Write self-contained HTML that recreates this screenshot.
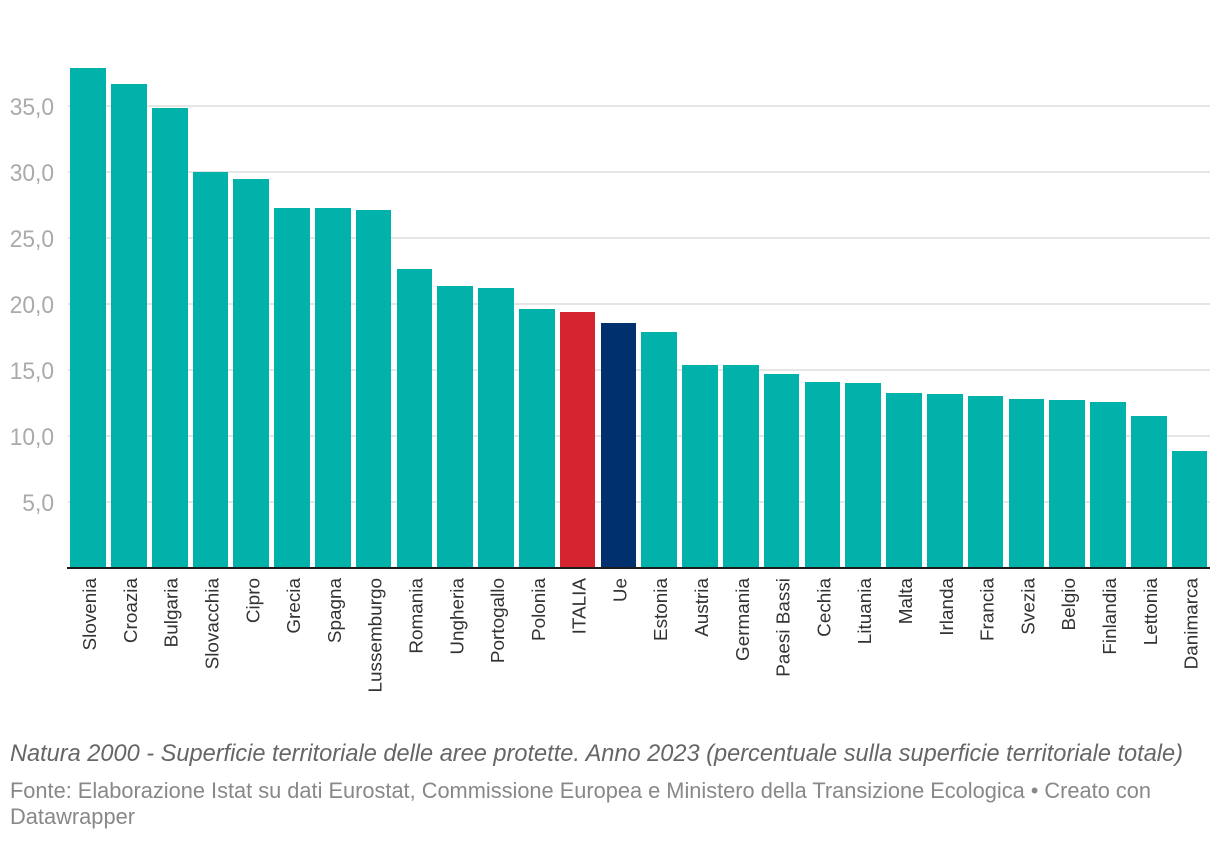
<!DOCTYPE html>
<html lang="it">
<head>
<meta charset="utf-8">
<title>Natura 2000</title>
<style>
html,body{margin:0;padding:0;background:#fff;width:1220px;height:842px;overflow:hidden}
svg{display:block;font-family:"Liberation Sans",sans-serif}
</style>
</head>
<body>
<svg id="chart" xmlns="http://www.w3.org/2000/svg" width="1220" height="842" viewBox="0 0 1220 842">
  <g id="grid"></g>
  <g id="yticks"></g>
  <g id="bars"></g>
  <rect x="67" y="567" width="1143" height="2" fill="#1d1d1d"></rect>
  <g id="xticks"></g>
  <text x="10" y="761" font-size="24" font-style="italic" fill="#666666" textLength="1173" lengthAdjust="spacingAndGlyphs">Natura 2000 - Superficie territoriale delle aree protette. Anno 2023 (percentuale sulla superficie territoriale totale)</text>
  <text x="10" y="798" font-size="22" fill="#888888" textLength="1141" lengthAdjust="spacingAndGlyphs">Fonte: Elaborazione Istat su dati Eurostat, Commissione Europea e Ministero della Transizione Ecologica • Creato con</text>
  <text x="10" y="824" font-size="22" fill="#888888" textLength="125" lengthAdjust="spacingAndGlyphs">Datawrapper</text>
</svg>
<script>
const categories = ["Slovenia","Croazia","Bulgaria","Slovacchia","Cipro","Grecia","Spagna","Lussemburgo","Romania","Ungheria","Portogallo","Polonia","ITALIA","Ue","Estonia","Austria","Germania","Paesi Bassi","Cechia","Lituania","Malta","Irlanda","Francia","Svezia","Belgio","Finlandia","Lettonia","Danimarca"];
const values = [37.9,36.7,34.85,30.0,29.5,27.3,27.3,27.1,22.65,21.4,21.2,19.6,19.4,18.55,17.9,15.4,15.4,14.7,14.1,14.0,13.25,13.2,13.0,12.8,12.7,12.6,11.5,8.9];
const tickValues = [5,10,15,20,25,30,35];
const tickLabels = ["5,0","10,0","15,0","20,0","25,0","30,0","35,0"];
const highlightCategories = ["ITALIA","Ue"];
const highlightColors = ["#d42530","#00306e"];

const NS = "http://www.w3.org/2000/svg";
const baseY = 568, unit = 13.2;
const startX = 70.3, step = 40.795, bandW = 35.63;
function yScale(v){ return baseY - v * unit; }
function xLeft(i){ return startX + i * step; }
function make(tag, attrs){
  const el = document.createElementNS(NS, tag);
  for (const k in attrs) el.setAttribute(k, attrs[k]);
  return el;
}

const grid = document.getElementById("grid");
const yticks = document.getElementById("yticks");
tickValues.forEach(function(v, i){
  const y = Math.round(yScale(v));
  const line = make("rect", {x: 68, y: y - 1, width: 1142, height: 2, fill: "#e6e6e6"});
  
  
  grid.appendChild(line);
  const t = make("text", {x: 54, y: y + 9, "text-anchor": "end", "font-size": 24.5, fill: "#aaaaaa"});
  
  
  t.textContent = tickLabels[i];
  yticks.appendChild(t);
  t.setAttribute('textLength', (t.getComputedTextLength() * 0.93).toFixed(1));
  t.setAttribute('lengthAdjust', 'spacingAndGlyphs');
});

const bars = document.getElementById("bars");
const xticks = document.getElementById("xticks");
categories.forEach(function(c, i){
  const l = Math.round(xLeft(i));
  const r = Math.round(xLeft(i) + bandW);
  const top = Math.round(yScale(values[i]));
  const h = highlightCategories.indexOf(c);
  const b = make("rect", {x: l, y: top, width: r - l, height: baseY - top, fill: h >= 0 ? highlightColors[h] : "#00b2aa"});
  
  
  bars.appendChild(b);
  const cx = xLeft(i) + bandW / 2 + 8;
  const t = make("text", {transform: "translate(" + cx + ",578) rotate(-90)", "text-anchor": "end", "font-size": 18.9, fill: "#333333"});
  
  
  t.textContent = c;
  xticks.appendChild(t);
});
</script>
</body>
</html>
